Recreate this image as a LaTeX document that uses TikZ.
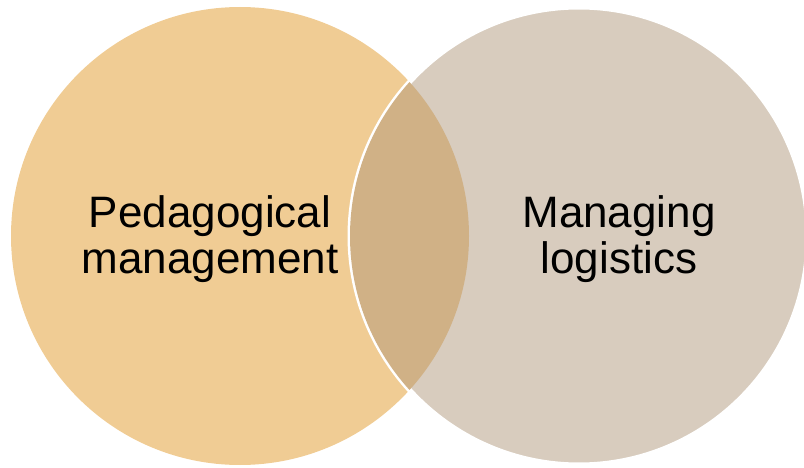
\documentclass[tikz,border=0pt]{standalone}
\usepackage{fontspec}
\setmainfont{Liberation Sans}
\definecolor{leftc}{RGB}{240,204,148}
\definecolor{rightc}{RGB}{216,204,190}
\definecolor{midc}{RGB}{208,177,134}
\begin{document}
\begin{tikzpicture}[x=1pt,y=1pt,
  label text/.style={align=center,anchor=base,inner sep=0pt,font=\fontsize{44}{46}\selectfont}]
\useasboundingbox (0,0) rectangle (804,467);
\fill[leftc] (240,231) circle (229);
\filldraw[fill=rightc,draw=white,line width=5pt] (579,231) circle (229);
\begin{scope}
  \clip (579,231) circle (229);
  \fill[midc] (240,231) circle (229);
\end{scope}
\node[label text] (ped) at (210,194) {Pedagogical\\management};
\node[label text] (log) at (619,194) {Managing\\logistics};
\end{tikzpicture}
\end{document}
